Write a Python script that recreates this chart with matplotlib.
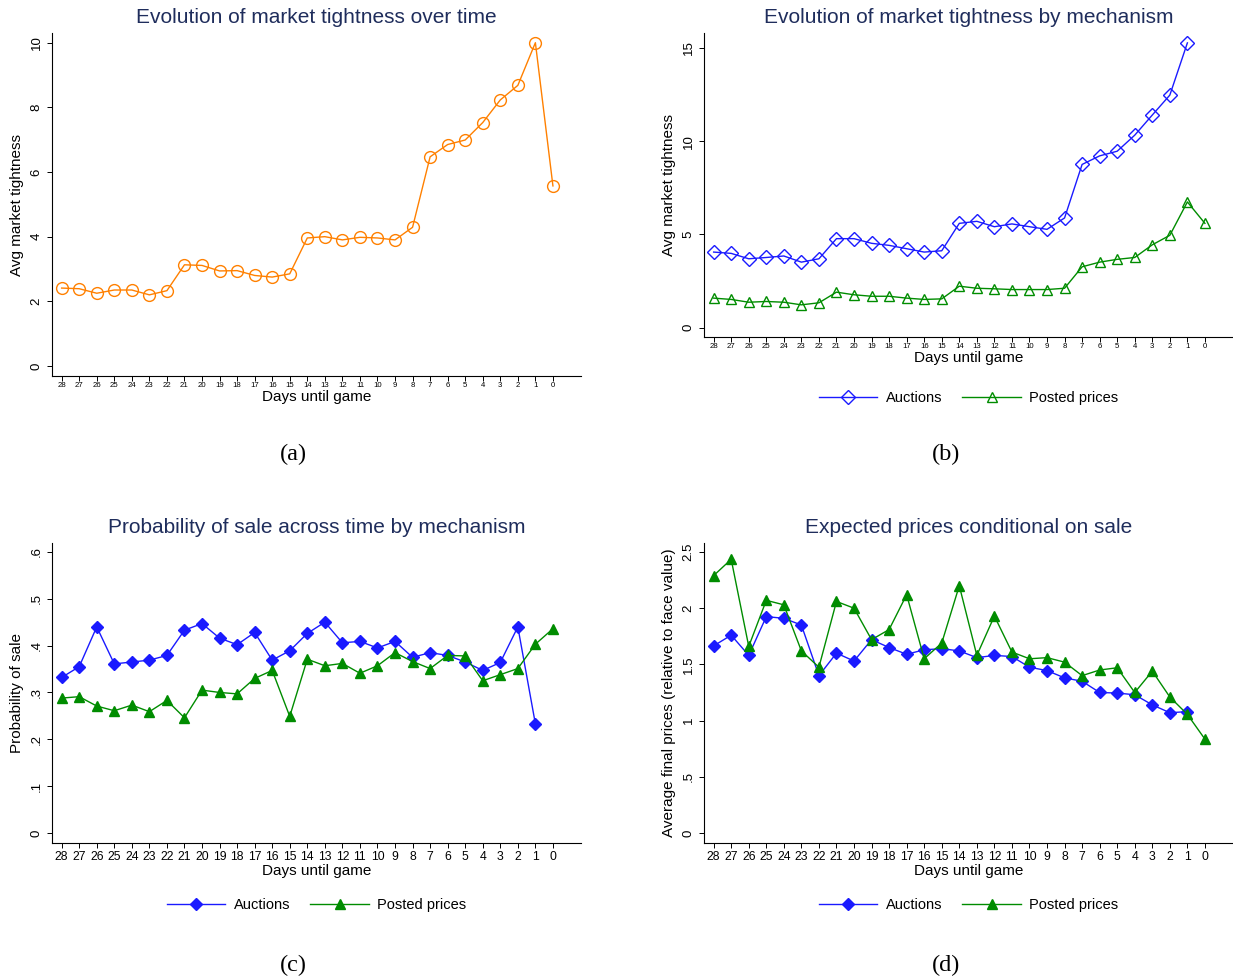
import matplotlib
matplotlib.use("Agg")
import matplotlib.pyplot as plt

plt.rcParams['font.family'] = ['Liberation Sans', 'DejaVu Sans']

days = [28, 27, 26, 25, 24, 23, 22, 21, 20, 19, 18, 17, 16, 15, 14,
        13, 12, 11, 10, 9, 8, 7, 6, 5, 4, 3, 2, 1, 0]

# (a) Average market tightness over time
tight_all = [2.41, 2.39, 2.25, 2.35, 2.35, 2.20, 2.33, 3.13, 3.11, 2.94, 2.95,
             2.80, 2.75, 2.85, 3.96, 4.00, 3.90, 3.98, 3.96, 3.90, 4.29, 6.47,
             6.85, 6.99, 7.53, 8.23, 8.68, 10.0, 5.57]

# (b) Market tightness by mechanism (auctions have no value at day 0)
tight_auc = [4.05, 3.98, 3.69, 3.76, 3.84, 3.51, 3.69, 4.77, 4.77, 4.52, 4.41,
             4.23, 4.05, 4.12, 5.59, 5.70, 5.41, 5.56, 5.41, 5.27, 5.88, 8.75,
             9.21, 9.46, 10.32, 11.40, 12.47, 15.27, None]
tight_post = [1.58, 1.51, 1.36, 1.40, 1.36, 1.22, 1.33, 1.90, 1.76, 1.68, 1.68,
              1.58, 1.51, 1.54, 2.22, 2.11, 2.08, 2.04, 2.04, 2.04, 2.11, 3.26,
              3.51, 3.66, 3.76, 4.44, 4.95, 6.74, 5.59]

# (c) Probability of sale
prob_auc = [0.332, 0.355, 0.440, 0.361, 0.365, 0.369, 0.379, 0.433, 0.447, 0.416,
            0.402, 0.428, 0.369, 0.389, 0.426, 0.450, 0.406, 0.409, 0.395, 0.409,
            0.375, 0.385, 0.379, 0.365, 0.347, 0.364, 0.440, 0.233, None]
prob_post = [0.288, 0.291, 0.271, 0.261, 0.273, 0.259, 0.283, 0.246, 0.305, 0.300,
             0.297, 0.330, 0.347, 0.249, 0.371, 0.357, 0.362, 0.341, 0.357, 0.385,
             0.366, 0.351, 0.379, 0.378, 0.325, 0.338, 0.351, 0.403, 0.436]

# (d) Expected prices conditional on sale
price_auc = [1.665, 1.76, 1.58, 1.925, 1.91, 1.85, 1.40, 1.60, 1.53, 1.72, 1.65,
             1.59, 1.63, 1.64, 1.62, 1.56, 1.58, 1.57, 1.475, 1.445, 1.38, 1.35,
             1.25, 1.245, 1.23, 1.14, 1.07, 1.08, None]
price_post = [2.29, 2.435, 1.66, 2.07, 2.03, 1.62, 1.475, 2.06, 2.00, 1.72, 1.81,
              2.12, 1.55, 1.69, 2.20, 1.58, 1.93, 1.61, 1.55, 1.56, 1.52, 1.40,
              1.45, 1.47, 1.25, 1.44, 1.21, 1.055, 0.835]

titles = ["Evolution of market tightness over time",
          "Evolution of market tightness by mechanism",
          "Probability of sale across time by mechanism",
          "Expected prices conditional on sale"]
captions = ["(a)", "(b)", "(c)", "(d)"]

W, H = 1233, 980
fig = plt.figure(figsize=(W / 100, H / 100), dpi=100)

TITLE_C = '#1f2d5c'
ORANGE = '#ff8000'
BLUE = '#1a1aff'
GREEN = '#008c00'
pos = list(range(len(days)))


def ax_px(left, top, right, bottom):
    return fig.add_axes([left / W, 1 - bottom / H, (right - left) / W, (bottom - top) / H])


def style(ax, title, ylabel, yticks, yticklabels, ylim, xfs, xpad, ylab_fs=11):
    for s in ['top', 'right']:
        ax.spines[s].set_visible(False)
    ax.spines['left'].set_linewidth(0.8)
    ax.spines['bottom'].set_linewidth(0.8)
    ax.set_xticks(pos)
    ax.set_xticklabels([str(d) for d in days], fontsize=xfs)
    ax.set_xlim(-0.55, 29.6)
    ax.set_yticks(yticks)
    ax.set_yticklabels(yticklabels, fontsize=9.5, rotation=90, va='center')
    ax.set_ylim(*ylim)
    ax.tick_params(axis='both', length=3.8, width=0.7)
    ax.tick_params(axis='x', pad=xpad)
    ax.tick_params(axis='y', pad=3)
    ax.set_xlabel("Days until game", fontsize=11, labelpad=0.5)
    ax.set_ylabel(ylabel, fontsize=ylab_fs)
    ax.yaxis.set_label_coords(-0.053, 0.5)
    ax.set_title(title, fontsize=15, color=TITLE_C, pad=7)


def mask(vals):
    xs = [p for p, v in zip(pos, vals) if v is not None]
    ys = [v for v in vals if v is not None]
    return xs, ys


def add_legend(ax, anchor):
    ax.legend(loc='upper center', bbox_to_anchor=(0.5, anchor), ncol=2, frameon=False,
              fontsize=10.5, handlelength=4.0, columnspacing=1.4, handletextpad=0.55)


# (a)
ax = ax_px(52, 33, 581, 376)
ax.plot(pos, tight_all, color=ORANGE, lw=1.0, marker='o', ms=8.5,
        mfc='none', mec=ORANGE, mew=1.0)
style(ax, titles[0], "Avg market tightness", [0, 2, 4, 6, 8, 10],
      ['0', '2', '4', '6', '8', '10'], (-0.31, 10.3), 5.6, 0.6)

# (b)
ax = ax_px(704, 33, 1233, 337)
xa, ya = mask(tight_auc)
ax.plot(xa, ya, color=BLUE, lw=1.0, marker='D', ms=7, mfc='none', mec=BLUE, mew=1.0,
        label='Auctions')
ax.plot(pos, tight_post, color=GREEN, lw=1.0, marker='^', ms=7.5, mfc='none', mec=GREEN,
        mew=1.0, label='Posted prices')
style(ax, titles[1], "Avg market tightness", [0, 5, 10, 15],
      ['0', '5', '10', '15'], (-0.505, 15.8), 5.6, 0.6)
add_legend(ax, -0.135)

# (c)
ax = ax_px(52, 543, 581, 843)
xa, ya = mask(prob_auc)
ax.plot(xa, ya, color=BLUE, lw=1.0, marker='D', ms=6.5, mfc=BLUE, mec=BLUE,
        label='Auctions')
ax.plot(pos, prob_post, color=GREEN, lw=1.0, marker='^', ms=7, mfc=GREEN, mec=GREEN,
        label='Posted prices')
style(ax, titles[2], "Probability of sale", [0, 0.1, 0.2, 0.3, 0.4, 0.5, 0.6],
      ['0', '.1', '.2', '.3', '.4', '.5', '.6'], (-0.0213, 0.619), 8.8, 2)
add_legend(ax, -0.14)

# (d)
ax = ax_px(704, 543, 1233, 843)
xa, ya = mask(price_auc)
ax.plot(xa, ya, color=BLUE, lw=1.0, marker='D', ms=6.5, mfc=BLUE, mec=BLUE,
        label='Auctions')
ax.plot(pos, price_post, color=GREEN, lw=1.0, marker='^', ms=7, mfc=GREEN, mec=GREEN,
        label='Posted prices')
style(ax, titles[3], "Average final prices (relative to face value)",
      [0, 0.5, 1, 1.5, 2, 2.5], ['0', '.5', '1', '1.5', '2', '2.5'], (-0.089, 2.58), 8.8, 2)
add_legend(ax, -0.14)

# captions
for cap, (x, y) in zip(captions, [(293, 454), (946, 454), (293, 965), (946, 965)]):
    fig.text(x / W, 1 - y / H, cap, ha='center', va='center', fontsize=17.5,
             family=['Liberation Serif', 'DejaVu Serif'])

fig.savefig("out.png", dpi=100, facecolor='white')
